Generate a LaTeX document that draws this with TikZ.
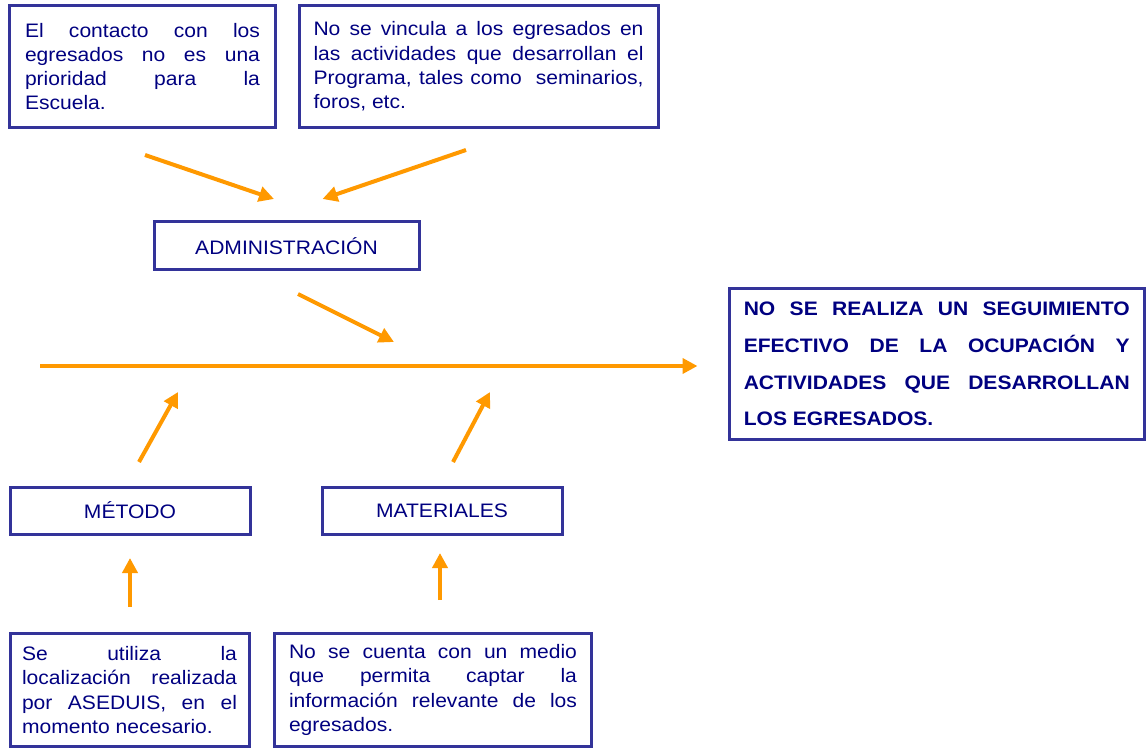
\documentclass[tikz,border=0pt]{standalone}
\usepackage{fontspec}
\setmainfont{Liberation Sans}[FakeStretch=1.08]
\usetikzlibrary{arrows.meta}
\definecolor{bord}{HTML}{333399}
\definecolor{txt}{HTML}{000080}
\definecolor{org}{HTML}{FF9900}
\newcommand\jl[2]{\makebox[#1][s]{#2}}
\newcommand\lastl[2]{\makebox[#1][l]{#2}}
\begin{document}
\begin{tikzpicture}[x=1pt,y=-1pt,
  box/.style={draw=bord, line width=3pt, text=txt, align=left, inner ysep=0pt,
    font=\fontsize{19.5}{24.3}\selectfont},
  lbl/.style={box, align=center},
  arr/.style={draw=org, line width=4pt, -{Triangle[length=15pt,width=15pt]}}]
\useasboundingbox (0,0) rectangle (1146,751);

\node[box, minimum width=266pt, minimum height=122pt, inner xsep=15.5pt] (c1) at (142.5,66.5)
 {\jl{235pt}{El contacto con los}\\\jl{235pt}{egresados no es una}\\\jl{235pt}{prioridad para la}\\\lastl{235pt}{Escuela.}};

\node[box, minimum width=359pt, minimum height=122pt, inner xsep=14.5pt] (c2) at (478.5,66.5)
 {\jl{330pt}{No se vincula a los egresados en}\\\jl{330pt}{las actividades que desarrollan el}\\\jl{330pt}{Programa, tales como \ seminarios,}\\\lastl{330pt}{foros, etc.}};

\node[lbl, minimum width=265pt, minimum height=48pt] (adm) at (286.5,246) {ADMINISTRACIÓN};

\node[box, minimum width=415.5pt, minimum height=150pt, inner xsep=14.75pt,
  font=\fontsize{19.5}{36.7}\selectfont\bfseries] (eff) at (936.75,364)
 {\jl{386pt}{NO SE REALIZA UN SEGUIMIENTO}\\\jl{386pt}{EFECTIVO DE LA OCUPACIÓN Y}\\\jl{386pt}{ACTIVIDADES QUE DESARROLLAN}\\\lastl{386pt}{LOS EGRESADOS.}};

\node[lbl, minimum width=240pt, minimum height=47pt] (met) at (130,510.5) {MÉTODO};
\node[lbl, minimum width=240pt, minimum height=47pt] (mat) at (442,510.5) {MATERIALES};

\node[box, minimum width=239pt, minimum height=112.5pt, inner xsep=12pt] (m1) at (129.5,690)
 {\jl{215pt}{Se utiliza la}\\\jl{215pt}{localización realizada}\\\jl{215pt}{por ASEDUIS, en el}\\\lastl{215pt}{momento necesario.}};

\node[box, minimum width=316.5pt, minimum height=112.5pt, inner xsep=14.25pt] (m2) at (433,690)
 {\jl{288pt}{No se cuenta con un medio}\\\jl{288pt}{que permita captar la}\\\jl{288pt}{información relevante de los}\\\lastl{288pt}{egresados.}};

\coordinate (a1s) at (145,155);   \coordinate (a1e) at (274,199);
\coordinate (a2s) at (466,150);   \coordinate (a2e) at (322.5,199);
\coordinate (a3s) at (298,294);   \coordinate (a3e) at (394,342);
\coordinate (sps) at (40,366);    \coordinate (spe) at (697.5,366);
\coordinate (a4s) at (139,462);   \coordinate (a4e) at (178,392);
\coordinate (a5s) at (453,462);   \coordinate (a5e) at (490,392);
\coordinate (a6s) at (130,607);   \coordinate (a6e) at (130,558);
\coordinate (a7s) at (440,600);   \coordinate (a7e) at (440,553);

\draw[arr] (a1s) -- (a1e);
\draw[arr] (a2s) -- (a2e);
\draw[arr] (a3s) -- (a3e);
\draw[arr, line width=4.5pt] (sps) -- (spe);
\draw[arr] (a4s) -- (a4e);
\draw[arr] (a5s) -- (a5e);
\draw[arr] (a6s) -- (a6e);
\draw[arr] (a7s) -- (a7e);
\end{tikzpicture}
\end{document}
